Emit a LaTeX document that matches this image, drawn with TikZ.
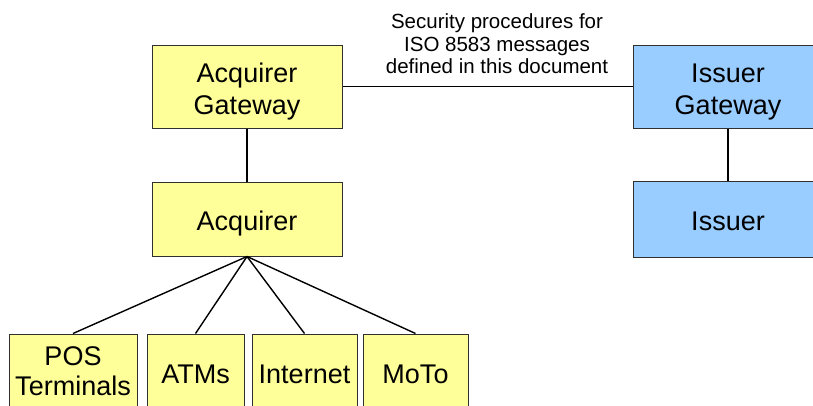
\documentclass[tikz,border=0pt]{standalone}
\usepackage{fontspec}
\setmainfont{Liberation Sans}
\definecolor{boxyellow}{HTML}{FFFF99}
\definecolor{boxblue}{HTML}{99CCFF}
\definecolor{boxedge}{HTML}{303030}
\begin{document}
\begin{tikzpicture}[x=1pt,y=-1pt,
  box/.style={draw=boxedge,line width=1pt,rectangle,inner sep=0pt},
  ybox/.style={box,fill=boxyellow},
  bbox/.style={box,fill=boxblue},
  txt/.style={inner sep=0pt,align=center,font=\fontsize{27}{32}\selectfont},
  link/.style={draw=black,line width=1.4pt}]
\useasboundingbox (0,0) rectangle (813,405);
\clip (0,0) rectangle (813,405);
\node[ybox,minimum width=190pt,minimum height=83pt] (agw) at (247,86.5) {};
\node[ybox,minimum width=190pt,minimum height=74pt] (acq) at (247,219) {};
\node[bbox,minimum width=190pt,minimum height=83pt] (igw) at (728,86.5) {};
\node[bbox,minimum width=190pt,minimum height=76pt] (iss) at (728,219) {};
\node[ybox,minimum width=128pt,minimum height=76pt] (pos) at (73,372) {};
\node[ybox,minimum width=97pt,minimum height=76pt] (atm) at (195.5,372) {};
\node[ybox,minimum width=105pt,minimum height=76pt] (int) at (304.5,372) {};
\node[ybox,minimum width=105pt,minimum height=76pt] (moto) at (415.5,372) {};
\node[txt,anchor=base] (agwt) at (247,82) {Acquirer};
\node[txt,anchor=base] (agwt2) at (247,114) {Gateway};
\node[txt,anchor=base] (acqt) at (247,230) {Acquirer};
\node[txt,anchor=base] (igwt) at (728,82) {Issuer};
\node[txt,anchor=base] (igwt2) at (728,114) {Gateway};
\node[txt,anchor=base] (isst) at (728,230) {Issuer};
\node[txt,anchor=base] (post) at (73,365) {POS};
\node[txt,anchor=base] (post2) at (73,395) {Terminals};
\node[txt,anchor=base] (atmt) at (195.5,383) {ATMs};
\node[txt,anchor=base] (intt) at (304.5,383) {Internet};
\node[txt,anchor=base] (motot) at (415.5,383) {MoTo};
\node[align=center,inner sep=0pt,font=\fontsize{20.5}{22.5}\selectfont] (lbl) at (497,44) {Security procedures for\\ISO 8583 messages\\defined in this document};
\draw[link] (agw.east) -- (igw.west);
\draw[link] (agw.south) -- (acq.north);
\draw[link] (igw.south) -- (iss.north);
\draw[link] (acq.south) -- (pos.north);
\draw[link] (acq.south) -- (atm.north);
\draw[link] (acq.south) -- (int.north);
\draw[link] (acq.south) -- (moto.north);
\end{tikzpicture}
\end{document}
